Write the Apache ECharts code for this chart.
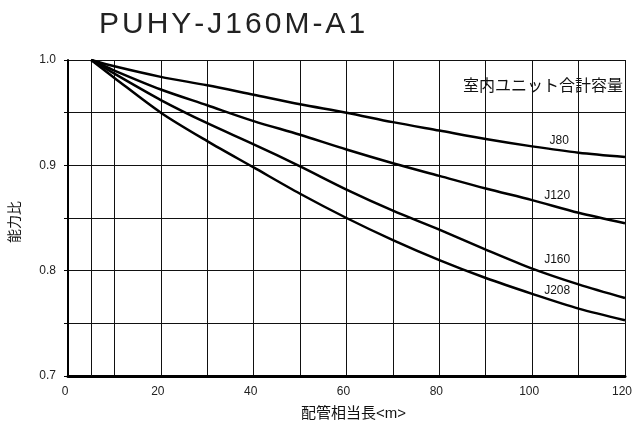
<!DOCTYPE html>
<html>
<head>
<meta charset="utf-8">
<script src="https://cdn.jsdelivr.net/npm/echarts@6/dist/echarts.min.js"></script>
<style>
  html, body { margin: 0; padding: 0; background: #fff; }
  #chart { width: 635px; height: 426px; }
</style>
</head>
<body>
<div id="chart"></div>
<script>
// 配管相当長 (m)
const pipeLength = [5, 10, 20, 30, 40, 50, 60, 70, 80, 90, 100, 110, 120];
// 能力比 (室内ユニット合計容量ごと)
const capJ80  = [1.0, 0.994, 0.984, 0.976, 0.967, 0.958, 0.950, 0.941, 0.933, 0.925, 0.918, 0.912, 0.908];
const capJ120 = [1.0, 0.990, 0.972, 0.957, 0.942, 0.929, 0.915, 0.902, 0.890, 0.878, 0.867, 0.855, 0.845];
const capJ160 = [1.0, 0.987, 0.962, 0.940, 0.920, 0.899, 0.877, 0.857, 0.839, 0.820, 0.802, 0.787, 0.774];
const capJ208 = [1.0, 0.983, 0.950, 0.923, 0.898, 0.873, 0.850, 0.829, 0.810, 0.793, 0.778, 0.764, 0.753];
const seriesNames = ['J80', 'J120', 'J160', 'J208'];
const xTicks = [0, 20, 40, 60, 80, 100, 120];
const titleText = 'PUHY-J160M-A1';

const FONT = "'Liberation Sans', 'Noto Sans CJK JP', sans-serif";
const GRID_COLOR = '#111';
const labelIdx = 10; // 系列名を置く点 (100m)

const chart = echarts.init(document.getElementById('chart'));

// 系列名ラベルのずれ
const labelOffsets = [[27, 5], [25, 7], [25, 2], [25, 8]];

function makeSeries(name, values, i) {
  return {
    name: name,
    type: 'line',
    data: pipeLength.map((x, k) => [x, values[k]]),
    smooth: 0.3,
    symbol: 'none',
    lineStyle: { color: '#000', width: 2.5 },
    z: 5,
    markPoint: {
      silent: true,
      symbol: 'circle',
      symbolSize: 0,
      label: {
        show: true,
        formatter: name,
        position: 'top',
        offset: labelOffsets[i],
        color: '#111',
        fontSize: 12,
        fontFamily: FONT
      },
      data: [{ coord: [pipeLength[labelIdx], values[labelIdx]] }]
    }
  };
}

const series = [capJ80, capJ120, capJ160, capJ208].map((v, i) => makeSeries(seriesNames[i], v, i));
// 5m の縦線
series[0].markLine = {
  silent: true,
  symbol: 'none',
  label: { show: false },
  lineStyle: { color: GRID_COLOR, width: 1, type: 'solid' },
  data: [{ xAxis: pipeLength[0] }]
};

// タイトルは字間を少し空ける
const titleRich = titleText.split('').map(c => '{c|' + c + '}').join('');

chart.setOption({
  animation: false,
  backgroundColor: '#fff',
  textStyle: { fontFamily: FONT },
  grid: { left: 66, right: 9, top: 60, bottom: 50 },
  graphic: [
    {
      type: 'text',
      left: 99,
      top: 10,
      style: {
        text: titleRich,
        fill: '#222',
        rich: {
          c: { fontSize: 30, fontFamily: FONT, color: '#222', padding: [0, 3, 0, 0] }
        }
      }
    },
    {
      type: 'text',
      right: 12,
      top: 79,
      style: {
        text: '室内ユニット合計容量',
        font: '16px ' + FONT,
        fill: '#111'
      }
    }
  ],
  xAxis: {
    type: 'value',
    min: 0,
    max: 120,
    interval: 10,
    name: '配管相当長<m>',
    nameLocation: 'middle',
    nameGap: 30,
    nameTextStyle: { fontSize: 15, color: '#111', padding: [0, 0, 0, 14] },
    axisLine: { show: true, lineStyle: { color: '#000', width: 3 } },
    axisTick: { show: false },
    axisLabel: {
      fontSize: 12,
      color: '#222',
      margin: 10,
      padding: [0, 6, 0, 0],
      formatter: v => (xTicks.indexOf(v) >= 0 ? String(v) : '')
    },
    splitLine: { show: true, lineStyle: { color: GRID_COLOR, width: 1 } }
  },
  yAxis: {
    type: 'value',
    min: 0.7,
    max: 1.0,
    interval: 0.1,
    name: '能力比',
    nameLocation: 'middle',
    nameRotate: 90,
    nameGap: 46,
    nameTextStyle: { fontSize: 14, color: '#111', padding: [0, 8, 0, 0] },
    axisLine: { show: true, lineStyle: { color: '#000', width: 2 } },
    axisTick: { show: true, length: 4, lineStyle: { color: '#000' } },
    minorTick: { show: true, splitNumber: 2, length: 4, lineStyle: { color: '#000' } },
    axisLabel: {
      fontSize: 12,
      color: '#222',
      margin: 12,
      formatter: v => v.toFixed(1)
    },
    splitLine: { show: true, lineStyle: { color: GRID_COLOR, width: 1 } },
    minorSplitLine: { show: true, lineStyle: { color: GRID_COLOR, width: 1 } }
  },
  series: series
});
</script>
</body>
</html>
